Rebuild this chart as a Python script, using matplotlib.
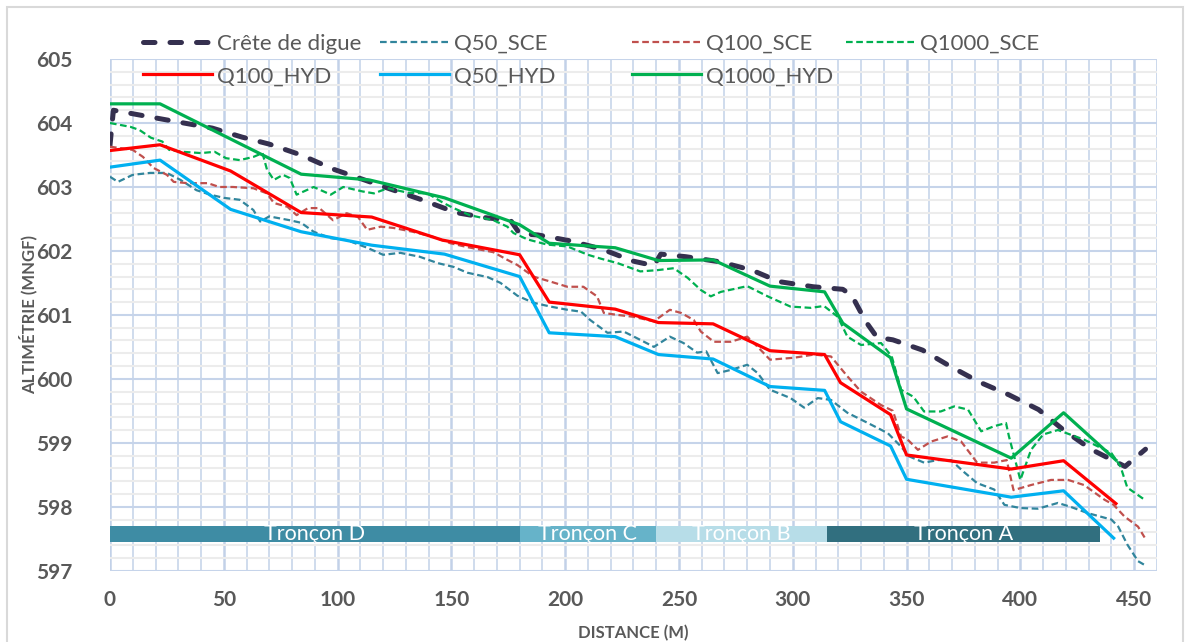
import matplotlib.pyplot as plt
from matplotlib.patches import Rectangle
from matplotlib.ticker import MultipleLocator

plt.rcParams['font.family'] = ['Lato', 'DejaVu Sans']

# Profil en long - lignes d'eau
crete_x = [0, 1.5, 20, 45, 58, 70, 84, 98, 111, 123, 137, 152, 165, 176, 180, 188, 202, 216, 230, 239,
           242, 253, 268, 282, 294, 309, 322, 326, 332, 337, 344, 357, 369, 382, 395, 408, 419, 431, 446, 455]
crete_y = [603.65, 604.2, 604.08, 603.92, 603.78, 603.67, 603.5, 603.28, 603.12, 602.97, 602.8, 602.6, 602.52,
           602.48, 602.27, 602.25, 602.16, 602.03, 601.84, 601.77, 601.95, 601.91, 601.83, 601.7, 601.52, 601.44,
           601.40, 601.3, 600.9, 600.65, 600.61, 600.45, 600.2, 599.95, 599.75, 599.52, 599.2, 598.9, 598.63, 598.9]

q50_sce_x = [0, 3.5, 10, 17.6, 25, 31, 38, 44, 50, 57, 63, 66, 70, 79, 84, 89.5, 97, 104, 113, 120,
             127.6, 136, 144, 151, 157, 166, 171.6, 179, 186, 193.6, 201, 207, 211, 218.6, 225.7, 233, 239, 246, 252, 258,
             262, 267, 272.8, 280, 284.6, 290, 299, 305, 311, 316.8, 324, 333, 341.8, 347.6, 351, 357.7, 363.7, 369.5,
             375, 381, 388.5, 393, 400, 407.7, 416.5, 422, 429.7, 440, 443, 447, 451.7, 454.6]
q50_sce_y = [603.16, 603.08, 603.19, 603.22, 603.22, 603.11, 602.95, 602.88, 602.83, 602.80,
             602.64, 602.46, 602.54, 602.48, 602.44, 602.30, 602.2, 602.17, 602.05, 601.94,
             601.97, 601.91, 601.81, 601.75, 601.66, 601.59, 601.5, 601.30, 601.19, 601.13,
             601.08, 601.05, 600.92, 600.72, 600.74, 600.61, 600.50, 600.66, 600.56, 600.41,
             600.43, 600.09, 600.14, 600.22, 600.09, 599.83, 599.70, 599.55, 599.70, 599.67,
             599.47, 599.31, 599.15, 598.94, 598.79, 598.69, 598.73, 598.73, 598.55, 598.37,
             598.27, 598.03, 597.98, 597.97, 598.06, 598.0, 597.90, 597.80, 597.69, 597.41, 597.15, 597.09]

q100_sce_x = [0, 10, 14.5, 19, 25, 28, 34, 43, 48, 54, 63, 69, 72, 78, 82, 87, 92, 98, 104, 109,
              113, 119, 124.5, 133, 142, 149.6, 157, 168.5, 174.6, 179, 186, 193.6, 201, 208, 214, 217, 223, 230, 239, 246,
              251, 256.5, 259.6, 265.3, 272.8, 280, 284.6, 290, 300.5, 309.4, 316.8, 324, 330, 338.8, 344, 347.6, 350.5,
              355, 360.8, 368, 374, 381, 388.5, 394, 397, 404.7, 413.5, 421, 428, 437, 441, 445.7, 451.7, 454.6]
q100_sce_y = [603.63, 603.58, 603.47, 603.3, 603.19, 603.08, 603.06, 603.06, 603.0, 603.0,
              602.98, 602.9, 602.75, 602.69, 602.56, 602.67, 602.67, 602.48, 602.59, 602.53,
              602.33, 602.38, 602.36, 602.30, 602.22, 602.12, 602.06, 601.98, 601.86, 601.78,
              601.6, 601.52, 601.44, 601.44, 601.29, 601.03, 601.0, 600.97, 600.9, 601.08,
              601.03, 600.92, 600.74, 600.58, 600.58, 600.66, 600.5, 600.30, 600.33, 600.38,
              600.35, 600.04, 599.80, 599.59, 599.5, 599.1, 599.05, 598.89, 599.02, 599.1,
              599.02, 598.69, 598.69, 598.73, 598.26, 598.34, 598.42, 598.42, 598.34, 598.11,
              598.03, 597.85, 597.69, 597.52]

q1000_sce_x = [0, 9, 13, 18, 23, 26, 32, 40, 46, 51, 57, 63, 67, 69, 72, 76, 79, 82, 89.5, 97,
               102.5, 111, 116, 122, 131, 139.5, 146.5, 151, 158, 168.5, 174.6, 177.3, 183.5, 192, 201, 210, 215.6, 223,
               233, 240.6, 247.7, 253.8, 259.6, 264, 268.4, 280, 289, 299, 308, 313.7, 319.8, 324, 330, 338.8, 343.5,
               347.6, 353, 357.7, 365, 371, 377, 382.8, 388.5, 393.7, 395, 400, 404.7, 410, 416.5, 428, 440, 444, 447,
               454.6]
q1000_sce_y = [604.0, 603.94, 603.89, 603.77, 603.71, 603.58, 603.55, 603.53, 603.55, 603.45,
               603.42, 603.47, 603.53, 603.27, 603.11, 603.19, 603.14, 602.88, 603.0, 602.88,
               603.0, 602.93, 602.9, 602.98, 602.91, 602.9, 602.75, 602.67, 602.56, 602.48,
               602.38, 602.28, 602.18, 602.1, 602.07, 601.94, 601.88, 601.81, 601.68, 601.70,
               601.73, 601.58, 601.39, 601.29, 601.36, 601.45, 601.29, 601.13, 601.11, 601.14,
               600.97, 600.66, 600.53, 600.56, 600.35, 599.83, 599.72, 599.49, 599.49, 599.57,
               599.52, 599.18, 599.26, 599.31, 599.1, 598.42, 598.89, 599.13, 599.2, 599.05,
               598.84, 598.63, 598.30, 598.11]

q100_hyd_x = [0, 22, 53, 84, 115, 146, 180, 193, 222, 241, 265, 290, 314, 321, 343, 350, 396, 419, 442]
q100_hyd_y = [603.57, 603.66, 603.25, 602.60, 602.53, 602.17, 601.94, 601.20, 601.09, 600.88, 600.86,
              600.44, 600.38, 599.94, 599.44, 598.81, 598.59, 598.72, 598.05]

q50_hyd_x = [0, 22, 53, 84, 115, 147, 180, 193, 222, 241, 265, 290, 314, 321, 343, 350, 396, 419, 441]
q50_hyd_y = [603.31, 603.42, 602.65, 602.30, 602.09, 601.95, 601.60, 600.72, 600.66, 600.38, 600.31,
             599.88, 599.82, 599.33, 598.95, 598.43, 598.15, 598.25, 597.51]

q1000_hyd_x = [0, 22, 84, 114, 147, 180, 193, 222, 241, 265, 290, 314, 322, 343, 350, 396, 419, 442]
q1000_hyd_y = [604.30, 604.30, 603.20, 603.11, 602.83, 602.41, 602.12, 602.05, 601.85, 601.86,
               601.45, 601.36, 600.87, 600.33, 599.53, 598.76, 599.47, 598.73]

troncon_noms = ['Tronçon D', 'Tronçon C', 'Tronçon B', 'Tronçon A']
troncon_debut = [0, 180, 240, 315]
troncon_fin = [180, 240, 315, 435]
troncon_couleurs = ['#3e8ca4', '#66b3c9', '#b7dde8', '#316f7f']

gris = '#595959'

fig = plt.figure(figsize=(11.89, 6.42), dpi=100)
ax = fig.add_axes([0.0925, 0.111, 0.8805, 0.797])

# bandes des troncons
for nom, d, f, c in zip(troncon_noms, troncon_debut, troncon_fin, troncon_couleurs):
    ax.barh(597.575, f - d, left=d, height=0.25, color=c, zorder=2)
    ax.text((d + f) / 2, 597.575, nom, color='white', fontsize=15.5, ha='center', va='center', zorder=3)

l_crete, = ax.plot(crete_x, crete_y, color='#35304f', lw=3.6, dashes=(2.3, 3.0), dash_capstyle='round',
                   label='Crête de digue', zorder=4)
l_q50s, = ax.plot(q50_sce_x, q50_sce_y, color='#31859c', lw=1.6, dashes=(3, 1.6), label='Q50_SCE', zorder=4)
l_q100s, = ax.plot(q100_sce_x, q100_sce_y, color='#c0504d', lw=1.6, dashes=(3, 1.6), label='Q100_SCE', zorder=4)
l_q1000s, = ax.plot(q1000_sce_x, q1000_sce_y, color='#00b050', lw=1.6, dashes=(3, 1.6), label='Q1000_SCE', zorder=4)
l_q100h, = ax.plot(q100_hyd_x, q100_hyd_y, color='#ff0000', lw=2.3, label='Q100_HYD', zorder=5)
l_q50h, = ax.plot(q50_hyd_x, q50_hyd_y, color='#00b0f0', lw=2.3, label='Q50_HYD', zorder=5)
l_q1000h, = ax.plot(q1000_hyd_x, q1000_hyd_y, color='#00b050', lw=2.3, label='Q1000_HYD', zorder=5)

ax.set_xlim(0, 460)
ax.set_ylim(597, 605)
ax.xaxis.set_major_locator(MultipleLocator(50))
ax.xaxis.set_minor_locator(MultipleLocator(10))
ax.yaxis.set_major_locator(MultipleLocator(1))
ax.yaxis.set_minor_locator(MultipleLocator(0.2))
ax.set_xticks([0, 50, 100, 150, 200, 250, 300, 350, 400, 450])

ax.grid(which='minor', axis='y', color='#ececec', lw=1.5, zorder=0)
ax.grid(which='minor', axis='x', color='#ccd9ec', lw=1.3, zorder=0)
ax.grid(which='major', axis='x', color='#c2d1e8', lw=1.8, zorder=0)
ax.grid(which='major', axis='y', color='#c6d4ea', lw=1.5, zorder=0)
ax.set_axisbelow(True)
for s in ax.spines.values():
    s.set_visible(False)
ax.axvline(460, color='#c2d1e8', lw=1.8, zorder=0)

ax.tick_params(which='both', length=0, labelsize=15, labelcolor=gris, pad=14)
for lab in ax.get_xticklabels() + ax.get_yticklabels():
    lab.set_fontweight('bold')
ax.tick_params(axis='y', pad=27)

ax.set_xlabel('DISTANCE (M)', fontsize=12, fontweight='bold', color=gris, labelpad=11)
ax.set_ylabel('ALTIMÉTRIE (MNGF)', fontsize=12, fontweight='bold', color=gris)
ax.yaxis.set_label_coords(-0.069, 0.5)

# legende : une colonne par bloc, placee comme dans l'original
colonnes = [[l_crete, l_q100h], [l_q50s, l_q50h], [l_q100s, l_q1000h], [l_q1000s]]
x_col = [143, 380, 632, 846]
for lignes, xc in zip(colonnes, x_col):
    leg = fig.legend(lignes, [ln.get_label() for ln in lignes], loc='upper left',
                     bbox_to_anchor=(xc / 1189, 0.947), frameon=False, fontsize=16, labelcolor=gris,
                     handlelength=3.1, handletextpad=0.25, labelspacing=0.55, borderpad=0, borderaxespad=0)

fig.patches.append(Rectangle((0.006, -0.01), 0.989, 0.999, transform=fig.transFigure,
                             fill=False, edgecolor='#d9d9d9', lw=1.5))

plt.savefig('out.png', dpi=100)
